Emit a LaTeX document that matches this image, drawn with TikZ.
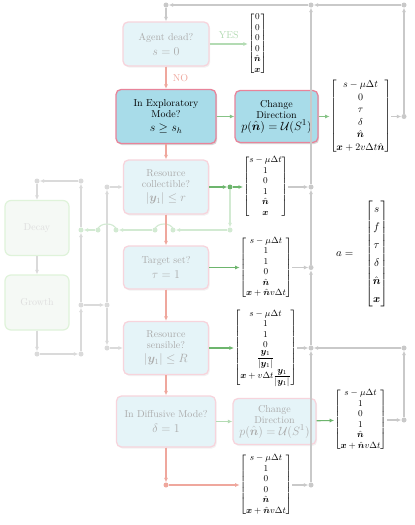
\documentclass[tikz,border=0pt]{standalone}
\usepackage{amsmath,amssymb,bm}
\usetikzlibrary{arrows.meta,shadows}
\newcommand\myn{\hat{\boldsymbol{n}}}
\newcommand\myx{\boldsymbol{x}}
\newcommand\myy{\boldsymbol{y}}
\definecolor{hlblue}{HTML}{A8DCE9}
\definecolor{hlpink}{HTML}{E8849A}
\definecolor{grn}{HTML}{6DB56D}
\definecolor{grnmid}{HTML}{86C386}
\definecolor{grnlt}{HTML}{D2EAD2}
\definecolor{grnfd}{HTML}{B3DBB3}
\definecolor{redlt}{HTML}{EFA79D}
\definecolor{grayR}{HTML}{C9C9C9}
\definecolor{grayL}{HTML}{DADADA}
\definecolor{dgfill}{HTML}{F5F9F5}
\definecolor{dgdraw}{HTML}{DFF3DA}
\definecolor{dgtext}{HTML}{DEDEDE}
\begin{document}
\begin{tikzpicture}[x=1pt,y=1pt,
  mbox/.style={rectangle, rounded corners=5pt, line width=1.3pt, align=center, inner sep=0pt, font=\fontsize{10}{11}\selectfont},
  hlbox/.style={mbox, fill=hlblue, draw=hlpink, text=black, drop shadow={shadow xshift=1.2pt, shadow yshift=-1.6pt, opacity=0.3}},
  fdbox/.style={mbox, fill=hlblue!30, draw=hlpink!35, text=black!33, drop shadow={shadow xshift=1.2pt, shadow yshift=-1.6pt, opacity=0.1}},
  dgbox/.style={rectangle, rounded corners=6pt, line width=1.2pt, fill=dgfill, draw=dgdraw, text=dgtext, font=\fontsize{10}{11}\selectfont, minimum width=64pt, minimum height=55pt},
  smat/.style={inner sep=0pt, font=\fontsize{9}{10.5}\selectfont},
  ar/.style={-{Latex[length=4.5pt,width=4pt]}, line width=1.1pt},
  gR/.style={ar, draw=grayR, fill=grayR},
  gL/.style={ar, draw=grayL, fill=grayL},
  rar/.style={ar, draw=redlt, fill=redlt},
  gsar/.style={ar, draw=grn, fill=grn},
  gmar/.style={ar, draw=grnmid, fill=grnmid},
  gfar/.style={ar, draw=grnfd, fill=grnfd},
  gtar/.style={ar, draw=grnlt, fill=grnlt},
  dotR/.style={circle, fill=grayR, inner sep=0pt, minimum size=5pt},
  dotL/.style={circle, fill=grayL, inner sep=0pt, minimum size=5pt},
  dotG/.style={circle, fill=grn, inner sep=0pt, minimum size=5pt},
  dotGl/.style={circle, fill=grnlt, inner sep=0pt, minimum size=5pt},
  dotr/.style={circle, fill=redlt, inner sep=0pt, minimum size=5pt}
]
\fill[white] (0,0) rectangle (415,-525);
\useasboundingbox (0,0) rectangle (415,-525);

% main boxes
\node[fdbox, minimum width=86pt, minimum height=44pt] (dead) at (166,-44) {Agent dead?\\[4pt]{\large $s=0$}};
\node[hlbox, minimum width=100pt, minimum height=54pt] (expl) at (166,-116.5) {In Exploratory\\Mode?\\[3pt]{\large $s\geq s_h$}};
\node[hlbox, minimum width=83pt, minimum height=52pt] (cdtop) at (276.5,-116.5) {Change\\Direction\\[1pt]{\fontsize{13}{15}\selectfont $p(\myn)=\mathcal{U}(S^1)$}};
\node[fdbox, minimum width=85pt, minimum height=54pt] (coll) at (166,-187) {Resource\\collectible?\\[3pt]{\large $|\myy_1|\leq r$}};
\node[fdbox, minimum width=85pt, minimum height=43pt] (targ) at (166,-267.5) {Target set?\\[4pt]{\large $\tau=1$}};
\node[fdbox, minimum width=85pt, minimum height=53pt] (sens) at (166,-348) {Resource\\sensible?\\[3pt]{\large $|\myy_1|\leq R$}};
\node[fdbox, minimum width=99pt, minimum height=51pt] (diff) at (166,-421.5) {In Diffusive Mode?\\[4pt]{\large $\delta=1$}};
\node[fdbox, minimum width=83pt, minimum height=46pt] (cdbot) at (274.5,-421.5) {Change\\Direction\\[1pt]{\fontsize{13}{15}\selectfont $p(\myn)=\mathcal{U}(S^1)$}};
\node[dgbox] (decay) at (37,-228) {Decay};
\node[dgbox] (growth) at (37,-302.5) {Growth};

% matrices
\node[smat] (myes) at (257.5,-44) {$\begin{bmatrix}0\\0\\0\\0\\\myn\\\myx\end{bmatrix}$};
\node[inner sep=0pt, font=\fontsize{10}{12.5}\selectfont] (mtop) at (360.5,-116.5) {$\begin{bmatrix}s-\mu\Delta t\\0\\\tau\\\delta\\\myn\\\myx+2v\Delta t\myn\end{bmatrix}$};
\node[smat] (mcoll) at (265.5,-187) {$\begin{bmatrix}s-\mu\Delta t\\1\\0\\1\\\myn\\\myx\end{bmatrix}$};
\node[smat] (mtarg) at (266,-267.5) {$\begin{bmatrix}s-\mu\Delta t\\1\\1\\0\\\myn\\\myx+\myn v\Delta t\end{bmatrix}$};
\node[smat] (msens) at (265.5,-348) {$\begin{bmatrix}s-\mu\Delta t\\1\\1\\0\\\dfrac{\myy_1}{|\myy_1|}\\\myx+v\Delta t\dfrac{\myy_1}{|\myy_1|}\end{bmatrix}$};
\node[smat] (mdiffR) at (360.5,-420) {$\begin{bmatrix}s-\mu\Delta t\\1\\0\\1\\\myn\\\myx+\myn v\Delta t\end{bmatrix}$};
\node[smat] (mbot) at (266,-485) {$\begin{bmatrix}s-\mu\Delta t\\1\\0\\0\\\myn\\\myx+\myn v\Delta t\end{bmatrix}$};
\node[inner sep=0pt, font=\fontsize{11}{14}\selectfont] (ma) at (362,-254) {\renewcommand{\arraystretch}{1.28}$a=\hspace{9pt}\begin{bmatrix}s\\f\\\tau\\\delta\\\myn\\\myx\end{bmatrix}$};

% dots
\node[dotR] (dT1) at (166,-5) {};
\node[dotR] (dT2) at (311,-5) {};
\node[dotR] (dT3) at (404,-5) {};
\node[dotR] (dX1) at (404,-116.5) {};
\node[dotR] (dX2) at (404,-420) {};
\node[dotR] (dX3) at (404,-348) {};
\node[dotR] (dR1) at (311,-187) {};
\node[dotR] (dR2) at (311,-267.5) {};
\node[dotR] (dR3) at (311,-348) {};
\node[dotR] (dR4) at (311,-485) {};
\node[dotr] (dB) at (166,-485) {};
\node[dotG] (dC) at (230,-187) {};
\node[dotGl] (dC2) at (230,-230) {};
\node[dotGl] (h1) at (173,-230) {};
\node[dotGl] (h2) at (155,-230) {};
\node[dotGl] (h3) at (116,-230) {};
\node[dotGl] (h4) at (98,-230) {};
\node[dotGl] (dL2) at (81,-230) {};
\node[dotL] (dL1) at (81,-181) {};
\node[dotL] (dL0) at (37,-181) {};
\node[dotL] (dL3) at (81,-305) {};
\node[dotL] (dL4) at (81,-354) {};
\node[dotL] (dG) at (37,-354) {};
\node[dotL] (dM1) at (107,-187) {};
\node[dotL] (dM3) at (107,-305) {};
\node[dotL] (dM4) at (107,-348) {};

% left gray network
\draw[gL] (dL4) -- (dL3);
\draw[gL] (dL3) -- (dL2);
\draw[gL] (dL2) -- (dL1);
\draw[gL] (dL1) -- (dL0);
\draw[gL] (dL0) -- (decay);
\draw[gL] (decay) -- (growth);
\draw[gL] (growth) -- (dG);
\draw[gL] (dG) -- (dL4);
\draw[gL] (dL3) -- (dM3);
\draw[gL] (dM3) -- (dM1);
\draw[gL] (dM3) -- (dM4);
\draw[gL] (dM1) -- (coll);
\draw[gL] (dM4) -- (sens);

% faded green return
\draw[gtar] (dC) -- (dC2);
\draw[gtar] (dC2) -- (h1);
\draw[grnlt, line width=1.1pt] (h1.center) .. controls +(0,8) and +(0,8) .. (h2.center);
\draw[gtar] (h2) -- (h3);
\draw[grnlt, line width=1.1pt] (h3.center) .. controls +(0,8) and +(0,8) .. (h4.center);
\draw[gtar] (h4) -- (dL2);

% red NO chain
\draw[rar] (dead) -- node[right=3pt, text=redlt, font=\fontsize{10}{11}\selectfont] {NO} (expl);
\draw[rar] (expl) -- (coll);
\draw[rar] (coll) -- (targ);
\draw[rar] (targ) -- (sens);
\draw[rar] (sens) -- (diff);
\draw[rar] (diff) -- (dB);
\draw[rar] (dB) -- (mbot);

% green YES arrows
\draw[gfar] (dead) -- node[above=1pt, text=grnfd, font=\fontsize{10}{11}\selectfont] {YES} (myes);
\draw[gmar] (expl) -- (cdtop);
\draw[gmar] (cdtop) -- (mtop);
\draw[gsar] (coll) -- (dC);
\draw[gsar] (dC) -- (mcoll);
\draw[gsar] (targ) -- (mtarg);
\draw[gsar] (sens) -- (msens);
\draw[gfar] (diff) -- (cdbot);
\draw[gsar] (cdbot) -- (mdiffR);

% right gray network
\draw[gR] (dT2) -- (dT1);
\draw[gR] (dT1) -- (dead);
\draw[gR] (dT3) -- (dT2);
\draw[gR] (dX1) -- (dT3);
\draw[gR] (mtop) -- (dX1);
\draw[gR] (dR4) -- (dR3);
\draw[gR] (dR3) -- (dR2);
\draw[gR] (dR2) -- (dR1);
\draw[gR] (dR1) -- (dT2);
\draw[gR] (mcoll) -- (dR1);
\draw[gR] (mtarg) -- (dR2);
\draw[gR] (msens) -- (dR3);
\draw[gR] (mbot) -- (dR4);
\draw[gR] (mdiffR) -- (dX2);
\draw[gR] (dX2) -- (dX3);
\draw[gR] (dX3) -- (dR3);
\end{tikzpicture}
\end{document}
